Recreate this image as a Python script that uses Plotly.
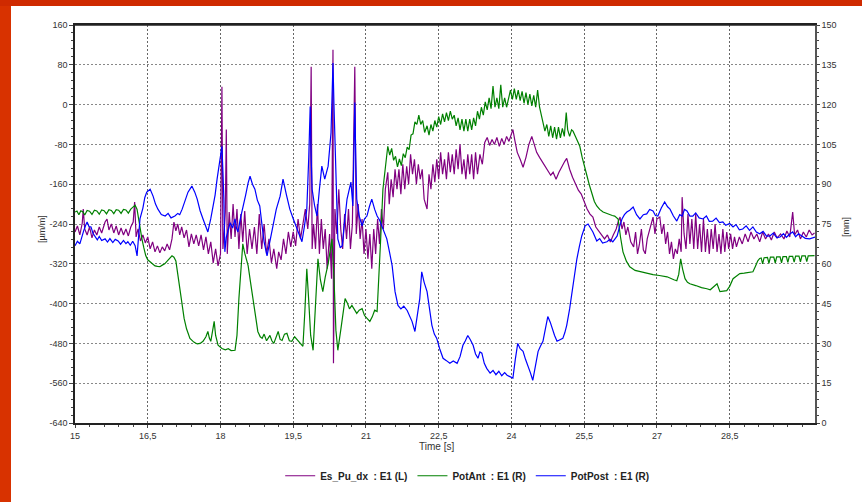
import plotly.graph_objects as go

# ---------------- data ----------------
purple_t = [15.00,15.05,15.10,15.15,15.17,15.20,15.25,15.30,15.35,15.40,15.45,15.50,15.55,15.62,15.66,15.70,15.75,15.80,15.85,15.90,15.95,16.00,16.05,16.10,16.15,16.20,16.23,16.26,16.30,16.35,16.40,16.45,16.50,16.55,16.60,16.65,16.70,16.75,16.80,16.85,16.90,16.95,17.00,17.04,17.08,17.12,17.16,17.20,17.25,17.30,17.35,17.40,17.45,17.50,17.55,17.60,17.65,17.70,17.75,17.80,17.85,17.90,17.95,18.00,18.03,18.05,18.08,18.10,18.12,18.14,18.18,18.22,18.26,18.30,18.34,18.38,18.42,18.46,18.50,18.55,18.60,18.65,18.70,18.75,18.80,18.85,18.90,18.95,19.00,19.05,19.10,19.16,19.20,19.25,19.30,19.35,19.40,19.45,19.50,19.55,19.60,19.65,19.70,19.75,19.80,19.84,19.87,19.89,19.92,19.96,20.00,20.04,20.08,20.12,20.16,20.20,20.25,20.29,20.32,20.33,20.36,20.40,20.44,20.48,20.52,20.56,20.60,20.64,20.68,20.72,20.77,20.80,20.84,20.88,20.92,20.96,21.00,21.04,21.08,21.12,21.16,21.20,21.24,21.28,21.32,21.36,21.40,21.45,21.48,21.52,21.56,21.60,21.64,21.68,21.72,21.76,21.80,21.84,21.88,21.92,21.96,22.00,22.04,22.08,22.12,22.16,22.20,22.26,22.30,22.34,22.38,22.42,22.46,22.50,22.54,22.58,22.62,22.66,22.70,22.74,22.78,22.82,22.86,22.90,22.94,22.98,23.02,23.06,23.10,23.14,23.18,23.22,23.26,23.30,23.35,23.40,23.45,23.50,23.55,23.60,23.65,23.70,23.75,23.80,23.85,23.90,23.95,24.00,24.03,24.07,24.12,24.18,24.24,24.30,24.36,24.42,24.46,24.52,24.58,24.64,24.70,24.76,24.81,24.86,24.92,24.98,25.04,25.10,25.14,25.20,25.26,25.32,25.38,25.44,25.50,25.56,25.62,25.68,25.74,25.80,25.86,25.92,25.98,26.04,26.10,26.16,26.20,26.24,26.28,26.32,26.36,26.40,26.46,26.52,26.56,26.60,26.64,26.68,26.72,26.76,26.80,26.86,26.92,26.96,27.00,27.06,27.10,27.14,27.18,27.22,27.26,27.30,27.34,27.38,27.42,27.46,27.50,27.52,27.56,27.60,27.64,27.68,27.72,27.76,27.80,27.84,27.88,27.92,27.96,28.00,28.04,28.08,28.12,28.16,28.20,28.24,28.28,28.32,28.36,28.40,28.44,28.48,28.52,28.56,28.60,28.64,28.70,28.76,28.82,28.88,28.94,29.00,29.06,29.12,29.18,29.24,29.30,29.36,29.42,29.48,29.55,29.62,29.68,29.74,29.80,29.84,29.90,29.96,30.02,30.08,30.14,30.20,30.25]
purple_v = [-256,-244,-262,-238,-210,-250,-262,-246,-268,-252,-262,-246,-258,-236,-230,-252,-240,-258,-244,-262,-248,-262,-250,-264,-246,-236,-196,-266,-250,-274,-262,-278,-266,-290,-276,-296,-284,-298,-286,-294,-280,-292,-270,-236,-254,-240,-262,-246,-268,-252,-286,-260,-280,-262,-284,-262,-292,-266,-300,-276,-318,-290,-324,-300,36,-290,-250,-216,-50,-300,-216,-270,-200,-266,-210,-290,-220,-276,-214,-300,-250,-290,-246,-300,-220,-290,-240,-300,-270,-318,-290,-330,-296,-312,-270,-300,-256,-286,-256,-284,-230,-270,-240,-210,-250,-200,76,-290,-240,-290,-200,-300,-230,-290,-250,-330,-260,-350,110,-520,-210,-260,-170,-250,-290,-220,-270,-210,-290,-240,76,-260,-200,-270,-230,-300,-250,-310,-260,-330,-250,-300,-230,-280,-210,-250,-170,-136,-200,-150,-186,-130,-170,-130,-180,-120,-170,-124,-160,-100,-140,-110,-160,-120,-150,-130,-190,-210,-140,-170,-120,-156,-110,-150,-96,-140,-110,-150,-96,-136,-100,-140,-90,-130,-80,-140,-110,-150,-100,-140,-100,-150,-96,-140,-100,-120,-76,-66,-82,-70,-80,-66,-84,-68,-80,-64,-74,-56,-50,-72,-96,-110,-126,-106,-80,-64,-76,-96,-106,-116,-126,-136,-142,-136,-150,-136,-124,-114,-108,-130,-146,-160,-172,-180,-196,-210,-220,-226,-246,-254,-262,-270,-262,-276,-262,-250,-236,-226,-250,-236,-262,-246,-276,-286,-256,-300,-280,-250,-292,-300,-270,-250,-226,-260,-230,-226,-260,-240,-280,-256,-300,-276,-310,-290,-300,-270,-296,-186,-260,-290,-220,-280,-230,-290,-220,-290,-240,-296,-230,-296,-250,-300,-250,-290,-240,-296,-260,-300,-250,-296,-256,-290,-260,-290,-266,-286,-266,-280,-260,-276,-256,-270,-260,-276,-256,-270,-260,-272,-256,-268,-260,-270,-254,-266,-216,-262,-252,-270,-256,-266,-252,-262,-258]

green_t = [15.00,15.04,15.08,15.12,15.16,15.20,15.25,15.30,15.35,15.40,15.45,15.50,15.55,15.60,15.65,15.70,15.75,15.80,15.85,15.90,15.95,16.00,16.05,16.10,16.15,16.20,16.24,16.28,16.31,16.35,16.38,16.42,16.46,16.50,16.55,16.60,16.65,16.70,16.75,16.80,16.85,16.90,16.95,17.00,17.04,17.08,17.12,17.16,17.20,17.25,17.30,17.37,17.45,17.52,17.58,17.64,17.70,17.74,17.77,17.80,17.84,17.87,17.90,17.95,18.03,18.10,18.16,18.22,18.30,18.34,18.38,18.42,18.46,18.50,18.57,18.62,18.67,18.72,18.77,18.82,18.86,18.90,18.95,19.02,19.06,19.10,19.15,19.19,19.23,19.27,19.32,19.37,19.42,19.47,19.53,19.60,19.65,19.70,19.74,19.78,19.82,19.86,19.91,19.95,20.01,20.06,20.11,20.16,20.22,20.30,20.34,20.38,20.42,20.48,20.53,20.57,20.62,20.66,20.71,20.76,20.81,20.86,20.92,20.97,21.02,21.08,21.13,21.18,21.23,21.27,21.30,21.35,21.40,21.45,21.49,21.53,21.57,21.61,21.65,21.69,21.73,21.77,21.81,21.85,21.89,21.93,21.97,22.01,22.05,22.09,22.13,22.17,22.21,22.26,22.30,22.34,22.38,22.42,22.46,22.50,22.54,22.58,22.62,22.66,22.70,22.74,22.78,22.82,22.86,22.90,22.94,22.98,23.02,23.06,23.10,23.14,23.18,23.22,23.26,23.30,23.34,23.38,23.42,23.46,23.50,23.54,23.58,23.62,23.66,23.70,23.74,23.78,23.82,23.86,23.90,23.94,23.98,24.02,24.06,24.10,24.14,24.18,24.22,24.26,24.30,24.34,24.38,24.42,24.46,24.50,24.54,24.58,24.61,24.65,24.69,24.73,24.77,24.81,24.85,24.89,24.93,24.97,25.01,25.05,25.09,25.13,25.16,25.20,25.24,25.27,25.32,25.37,25.41,25.46,25.51,25.56,25.61,25.66,25.71,25.76,25.82,25.89,25.95,26.02,26.08,26.13,26.20,26.25,26.30,26.37,26.44,26.55,26.65,26.80,26.92,27.05,27.21,27.35,27.41,27.45,27.49,27.53,27.58,27.63,27.68,27.80,27.92,28.03,28.10,28.24,28.30,28.44,28.50,28.57,28.64,28.71,28.80,28.90,28.98,29.03,29.08,29.12,29.15,29.18,29.21,29.28,29.31,29.34,29.41,29.44,29.47,29.54,29.57,29.60,29.67,29.70,29.73,29.80,29.83,29.86,29.93,29.96,29.99,30.06,30.09,30.12,30.25]
green_v = [79.5,79.9,78.5,80.0,79.6,78.4,80.1,79.8,78.6,80.2,79.9,78.7,80.3,80.0,78.8,80.4,80.1,78.9,80.4,80.2,79.0,80.5,80.3,79.1,80.6,81.5,82.1,80.5,77.0,72.0,69.4,66.0,63.0,61.5,60.8,60.0,59.2,59.0,58.9,59.5,60.0,61.0,62.2,63.0,62.5,61.1,56.0,50.6,45.0,39.4,35.5,31.9,30.5,29.8,30.0,30.8,32.5,34.5,32.0,30.8,35.0,38.3,33.0,29.3,28.1,27.6,28.0,27.3,27.4,33.0,46.9,58.0,67.5,64.0,59.3,53.0,46.9,40.0,34.5,32.5,31.9,33.5,31.0,33.0,31.0,30.0,33.0,34.5,31.5,31.1,33.5,33.8,31.0,30.8,32.5,31.1,30.0,28.9,42.0,58.1,46.0,33.0,27.4,40.0,61.9,54.0,49.5,55.0,60.0,69.4,55.0,35.0,27.4,35.0,42.0,46.9,45.0,43.0,44.3,43.0,41.3,42.5,43.1,40.5,39.5,38.3,40.0,42.5,42.0,55.0,68.0,88.1,97.0,104.3,101.0,103.5,99.0,100.5,96.5,99.5,97.0,101.5,100.0,104.0,103.0,108.5,109.0,113.5,112.5,116.0,112.5,114.0,109.5,112.0,108.5,112.5,110.0,114.0,111.5,115.5,112.5,116.5,113.5,117.0,114.0,117.5,114.5,116.0,112.0,115.0,110.5,114.5,110.0,114.5,110.0,114.5,110.5,115.0,112.0,117.5,114.5,119.0,116.0,121.0,118.0,122.5,118.5,127.0,119.0,122.5,118.5,127.5,119.0,122.5,119.0,123.0,125.5,122.0,126.0,122.0,125.5,121.5,125.0,120.5,124.5,120.0,124.0,119.5,123.5,119.0,125.5,119.0,116.0,113.3,110.0,112.5,108.0,112.0,107.5,111.5,107.0,111.5,107.5,111.0,108.0,117.0,110.5,108.0,110.5,110.0,108.0,106.0,104.3,100.0,96.0,93.0,89.5,86.0,83.5,81.8,80.5,79.5,79.0,78.5,78.2,78.0,76.9,70.0,64.5,61.0,58.9,57.5,57.0,56.5,55.9,55.6,55.1,54.0,53.6,56.0,61.9,58.0,54.4,53.0,52.5,51.8,51.0,50.6,50.2,52.5,49.5,49.9,51.5,54.4,55.5,56.3,56.5,56.8,57.0,59.0,61.1,62.0,62.2,60.0,62.3,62.4,60.2,62.5,62.5,60.3,62.6,62.6,60.4,62.7,62.7,60.5,62.8,62.8,60.6,62.9,62.9,60.7,63.0,63.0,60.8,63.0,63.1]

blue_t = [15.00,15.05,15.10,15.14,15.18,15.22,15.25,15.29,15.33,15.37,15.41,15.46,15.50,15.55,15.62,15.67,15.72,15.78,15.83,15.89,15.94,16.00,16.05,16.09,16.14,16.19,16.24,16.28,16.31,16.34,16.40,16.44,16.48,16.55,16.61,16.66,16.71,16.78,16.86,16.92,16.98,17.06,17.12,17.16,17.21,17.27,17.33,17.41,17.47,17.52,17.58,17.64,17.69,17.74,17.80,17.85,17.89,17.93,17.98,18.03,18.05,18.07,18.09,18.12,18.15,18.20,18.25,18.30,18.33,18.36,18.41,18.46,18.52,18.57,18.61,18.66,18.71,18.76,18.81,18.86,18.90,18.96,19.02,19.08,19.15,19.23,19.29,19.36,19.43,19.50,19.58,19.63,19.68,19.73,19.78,19.82,19.85,19.87,19.89,19.94,19.99,20.04,20.09,20.15,20.22,20.28,20.32,20.34,20.36,20.39,20.42,20.47,20.51,20.56,20.61,20.69,20.73,20.75,20.77,20.79,20.81,20.86,20.92,20.97,21.02,21.07,21.12,21.18,21.23,21.28,21.33,21.38,21.43,21.49,21.54,21.60,21.66,21.72,21.78,21.85,21.90,21.95,22.01,22.06,22.11,22.15,22.20,22.26,22.31,22.36,22.41,22.46,22.52,22.59,22.66,22.73,22.80,22.88,22.94,23.00,23.05,23.10,23.15,23.21,23.26,23.31,23.35,23.39,23.44,23.49,23.56,23.62,23.68,23.74,23.80,23.86,23.91,23.97,24.03,24.08,24.13,24.18,24.24,24.29,24.34,24.39,24.44,24.50,24.55,24.60,24.65,24.70,24.75,24.80,24.84,24.89,24.94,25.00,25.06,25.10,25.14,25.20,25.25,25.30,25.35,25.40,25.45,25.52,25.58,25.63,25.68,25.76,25.82,25.88,25.97,26.03,26.09,26.14,26.18,26.23,26.28,26.33,26.38,26.44,26.51,26.58,26.65,26.72,26.79,26.85,26.92,26.97,27.02,27.09,27.16,27.22,27.27,27.34,27.41,27.47,27.52,27.57,27.62,27.68,27.74,27.80,27.87,27.95,28.02,28.08,28.15,28.22,28.29,28.36,28.42,28.50,28.57,28.63,28.70,28.77,28.84,28.91,28.98,29.05,29.12,29.19,29.26,29.33,29.40,29.47,29.54,29.61,29.67,29.74,29.80,29.86,29.92,29.99,30.06,30.15,30.26]
blue_v = [66.8,68.5,67.5,70.5,72.5,74.5,75.8,74.0,73.9,71.5,70.5,69.0,70.3,68.8,69.4,68.2,69.5,68.0,69.2,68.6,67.4,68.8,67.6,68.3,67.0,68.5,66.8,63.0,70.0,76.9,81.0,85.0,87.0,88.1,85.5,82.5,80.6,78.6,78.0,79.0,77.3,78.0,79.0,78.5,80.6,83.5,87.0,89.3,87.0,84.4,80.0,76.9,74.5,72.0,77.0,81.8,86.0,91.9,98.0,104.3,95.0,84.4,64.5,70.0,72.0,75.5,73.5,76.9,73.5,72.0,77.0,80.6,86.0,90.5,93.0,90.0,88.1,84.0,81.8,74.0,68.3,63.0,68.5,74.3,80.5,85.5,91.9,86.0,80.6,77.0,73.1,70.5,68.3,74.0,80.6,100.0,119.3,100.0,88.1,82.0,78.0,88.0,96.8,91.9,96.8,109.5,135.7,120.0,106.9,85.0,69.4,66.0,66.8,76.0,84.4,90.8,81.8,100.0,120.8,100.0,84.4,78.0,74.3,77.0,78.0,81.5,84.4,80.5,78.0,76.5,74.3,72.0,69.4,64.0,59.3,49.5,44.3,43.0,44.0,42.4,40.5,38.3,34.5,40.0,46.9,57.0,53.0,49.5,43.0,36.8,33.5,31.9,28.0,24.4,23.5,22.5,23.4,22.5,25.0,29.3,31.0,33.0,31.5,29.3,26.0,24.4,26.8,26.3,22.5,20.6,18.8,19.8,18.2,19.5,17.8,19.0,18.0,17.4,16.9,24.0,30.0,28.0,27.0,24.0,21.7,19.0,16.1,22.0,27.0,29.0,30.8,35.5,40.1,38.0,35.6,33.0,30.8,31.5,31.9,34.0,36.8,43.0,49.5,55.5,61.9,66.5,70.5,74.3,75.0,73.5,72.0,68.6,69.5,67.8,68.3,69.2,68.3,69.5,70.5,74.0,76.9,78.5,79.5,80.2,81.4,78.5,76.9,78.5,78.8,80.5,79.9,78.2,78.0,81.0,83.3,81.5,80.6,78.0,76.1,78.5,78.0,80.5,79.9,78.0,78.0,79.2,77.3,76.9,78.0,76.0,76.1,77.2,75.5,75.8,74.5,75.2,73.9,74.8,72.8,73.1,74.3,72.6,73.9,72.0,71.3,72.2,70.4,70.5,71.6,69.9,70.1,71.4,70.0,71.2,72.0,70.2,71.3,70.5,69.6,69.4,70.1]

series_names = ["<b>Es_Pu_dx&nbsp; : E1 (L)</b>", "<b>PotAnt&nbsp; : E1 (R)</b>", "<b>PotPost&nbsp; : E1 (R)</b>"]

x_tickvals = [15, 16.5, 18, 19.5, 21, 22.5, 24, 25.5, 27, 28.5]
x_ticktext = ["15", "16,5", "18", "19,5", "21", "22,5", "24", "25,5", "27", "28,5"]
yl_tickvals = [160, 80, 0, -80, -160, -240, -320, -400, -480, -560, -640]
yl_ticktext = ["160", "80", "0", "-80", "-160", "-240", "-320", "-400", "-480", "-560", "-640"]
yr_tickvals = [150, 135, 120, 105, 90, 75, 60, 45, 30, 15, 0]
yr_ticktext = ["150", "135", "120", "105", "90", "75", "60", "45", "30", "15", "0"]

# ---------------- figure ----------------
FONT = "Liberation Sans, Arial, sans-serif"
fig = go.Figure()
fig.add_trace(go.Scatter(x=purple_t, y=purple_v, mode="lines", name=series_names[0],
                         line=dict(color="#800080", width=1.2), yaxis="y"))
fig.add_trace(go.Scatter(x=green_t, y=green_v, mode="lines", name=series_names[1],
                         line=dict(color="#008000", width=1.2), yaxis="y2"))
fig.add_trace(go.Scatter(x=blue_t, y=blue_v, mode="lines", name=series_names[2],
                         line=dict(color="#0000ff", width=1.2), yaxis="y2"))

L, R, T, B = 75, 47, 25, 77
W, H = 862, 502
pw, ph = W - L - R, H - T - B

def px(x):
    return (x - L) / pw

def py(y):
    return (H - B - y) / ph

fig.update_layout(
    width=W, height=H,
    margin=dict(l=L, r=R, t=T, b=B, pad=0),
    paper_bgcolor="white", plot_bgcolor="white",
    font=dict(family=FONT, size=9, color="#333333"),
    showlegend=True,
    legend=dict(orientation="h", x=0.53, xanchor="center", y=py(478), yanchor="middle",
                font=dict(size=10, color="#222222"), itemwidth=30, tracegroupgap=0,
                bgcolor="rgba(0,0,0,0)"),
    xaxis=dict(range=[15, 30.26], tickmode="array", tickvals=x_tickvals, ticktext=x_ticktext,
               showgrid=True, gridcolor="#666666", griddash="2px,2px", gridwidth=1,
               showline=True, linecolor="#222222", linewidth=1.5, mirror=True,
               ticks="outside", ticklen=3, tickcolor="#444444",
               minor=dict(dtick=0.3, tick0=15, ticks="outside", ticklen=2, tickcolor="#444444", showgrid=False),
               zeroline=False, tickfont=dict(size=9)),
    yaxis=dict(range=[-640, 160], tickmode="array", tickvals=yl_tickvals, ticktext=yl_ticktext,
               showgrid=True, gridcolor="#888888", griddash="2px,2px", gridwidth=1,
               showline=True, linecolor="#222222", linewidth=1.5, mirror=False,
               ticks="outside", ticklen=4, tickcolor="#444444",
               minor=dict(dtick=16, tick0=0, ticks="outside", ticklen=2, tickcolor="#444444", showgrid=False),
               zeroline=False, tickfont=dict(size=9)),
    yaxis2=dict(range=[0, 150], overlaying="y", side="right", tickmode="array",
                tickvals=yr_tickvals, ticktext=yr_ticktext, showgrid=False,
                showline=True, linecolor="#555555", linewidth=1.5,
                ticks="outside", ticklen=3, tickcolor="#444444",
                minor=dict(dtick=3, tick0=0, ticks="outside", ticklen=2, tickcolor="#444444"),
                zeroline=False, tickfont=dict(size=9)),
    shapes=[
        dict(type="line", xref="paper", yref="paper", x0=0, x1=1, y0=1, y1=1,
             line=dict(color="#222222", width=1.5)),
        dict(type="rect", xref="paper", yref="paper", x0=px(-5), x1=px(11), y0=py(510), y1=py(-5),
             fillcolor="#d83200", line=dict(width=0), layer="above"),
        dict(type="rect", xref="paper", yref="paper", x0=px(-5), x1=px(870), y0=py(6), y1=py(-5),
             fillcolor="#cf2a00", line=dict(width=0), layer="above"),
    ],
    annotations=[
        dict(text="Time [s]", xref="paper", yref="paper", x=px(436), y=py(449),
             showarrow=False, font=dict(size=10, color="#333333"), xanchor="center", yanchor="middle"),
        dict(text="[µm/m]", xref="paper", yref="paper", x=px(42), y=py(230), textangle=-90,
             showarrow=False, font=dict(size=9, color="#333333"), xanchor="center", yanchor="middle"),
        dict(text="[mm]", xref="paper", yref="paper", x=px(846), y=py(228), textangle=-90,
             showarrow=False, font=dict(size=9, color="#333333"), xanchor="center", yanchor="middle"),
    ],
)

fig.write_html("out.html")
